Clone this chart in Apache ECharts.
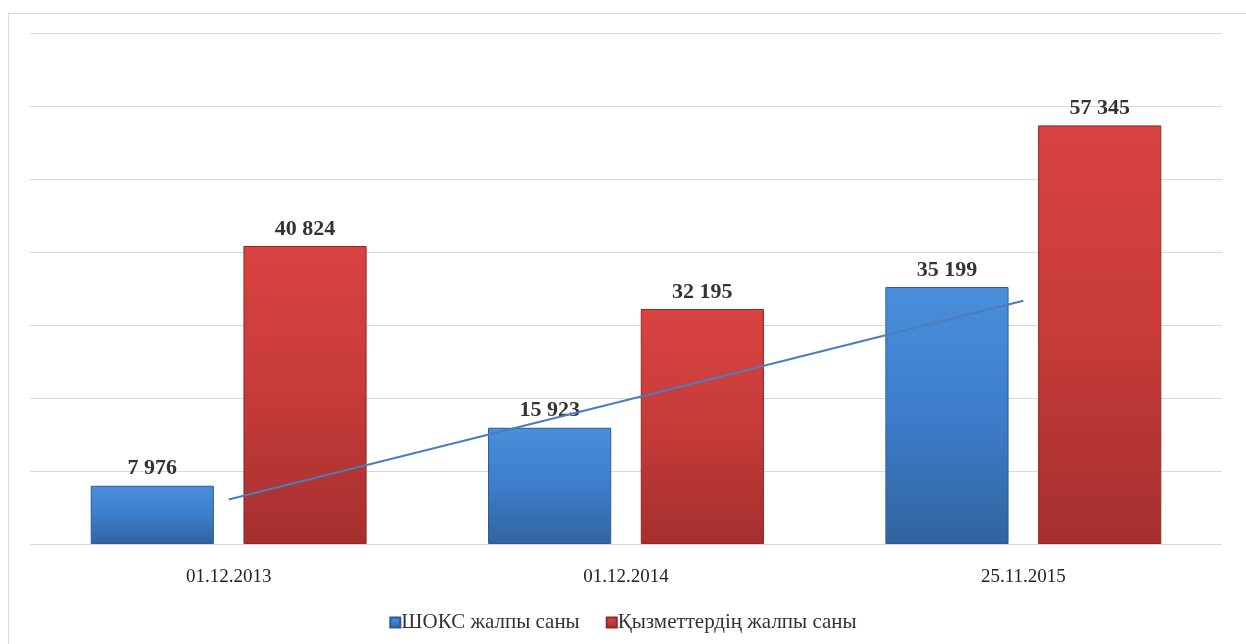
<!DOCTYPE html>
<html>
<head>
<meta charset="utf-8">
<script src="https://cdn.jsdelivr.net/npm/echarts@6/dist/echarts.min.js"></script>
<style>
html,body{margin:0;padding:0;background:#fff;}
#chart{width:1246px;height:644px;}
</style>
</head>
<body>
<div id="chart"></div>
<script>
const categories = ['01.12.2013', '01.12.2014', '25.11.2015'];
const shoksValues = [7976, 15923, 35199];
const serviceValues = [40824, 32195, 57345];
const trendValues = [6090, 19700, 33310];
const seriesNames = ['ШОКС жалпы саны', 'Қызметтердің жалпы саны'];

const fmt = v => String(v).replace(/\B(?=(\d{3})+(?!\d))/g, ' ');

const blueGrad = new echarts.graphic.LinearGradient(0, 0, 0, 1, [
  {offset: 0, color: '#4a8fdb'},
  {offset: 0.5, color: '#3d7dca'},
  {offset: 1, color: '#31649f'}
]);
const redGrad = new echarts.graphic.LinearGradient(0, 0, 0, 1, [
  {offset: 0, color: '#d94341'},
  {offset: 0.5, color: '#c63b39'},
  {offset: 1, color: '#a52f2e'}
]);

const labelStyle = {
  show: true, position: 'top', distance: 6,
  fontFamily: 'Liberation Serif', fontWeight: 'bold', fontSize: 22, color: '#333',
  formatter: p => fmt(p.value)
};

const chart = echarts.init(document.getElementById('chart'), null, {renderer: 'canvas'});
chart.setOption({
  animation: false,
  backgroundColor: '#fff',
  graphic: [{
    type: 'rect', shape: {x: 8.5, y: 13.5, width: 1300, height: 700},
    style: {fill: 'none', stroke: '#d9d9d9', lineWidth: 1}, z: -10
  }],
  grid: {left: 30, right: 24, top: 33, bottom: 100, containLabel: false},
  legend: {
    bottom: 6, left: 'center', itemWidth: 10, itemHeight: 10, itemGap: 26,
    icon: 'rect',
    textStyle: {fontFamily: 'Liberation Serif', fontSize: 21, color: '#333', padding: [0,0,0,-4]},
    data: seriesNames
  },
  xAxis: {
    type: 'category', data: categories,
    axisLine: {show: false}, axisTick: {show: false},
    axisLabel: {fontFamily: 'Liberation Serif', fontSize: 19, color: '#222', margin: 24}
  },
  yAxis: {
    type: 'value', min: 0, max: 70000, interval: 10000,
    axisLabel: {show: false}, axisLine: {show: false}, axisTick: {show: false},
    splitLine: {lineStyle: {color: '#d9d9d9', width: 1}}
  },
  series: [
    {
      name: seriesNames[0], type: 'bar', data: shoksValues,
      barWidth: '31%', barGap: '24%',
      itemStyle: {color: blueGrad, borderColor: '#2d5a92', borderWidth: 1},
      label: labelStyle
    },
    {
      name: seriesNames[1], type: 'bar', data: serviceValues,
      barWidth: '31%',
      itemStyle: {color: redGrad, borderColor: '#8e2a28', borderWidth: 1},
      label: labelStyle
    },
    {
      name: 'trend', type: 'line', data: trendValues,
      symbol: 'none', lineStyle: {color: '#4a7ebb', width: 2}, z: 5,
      tooltip: {show: false}
    }
  ]
});
</script>
</body>
</html>
